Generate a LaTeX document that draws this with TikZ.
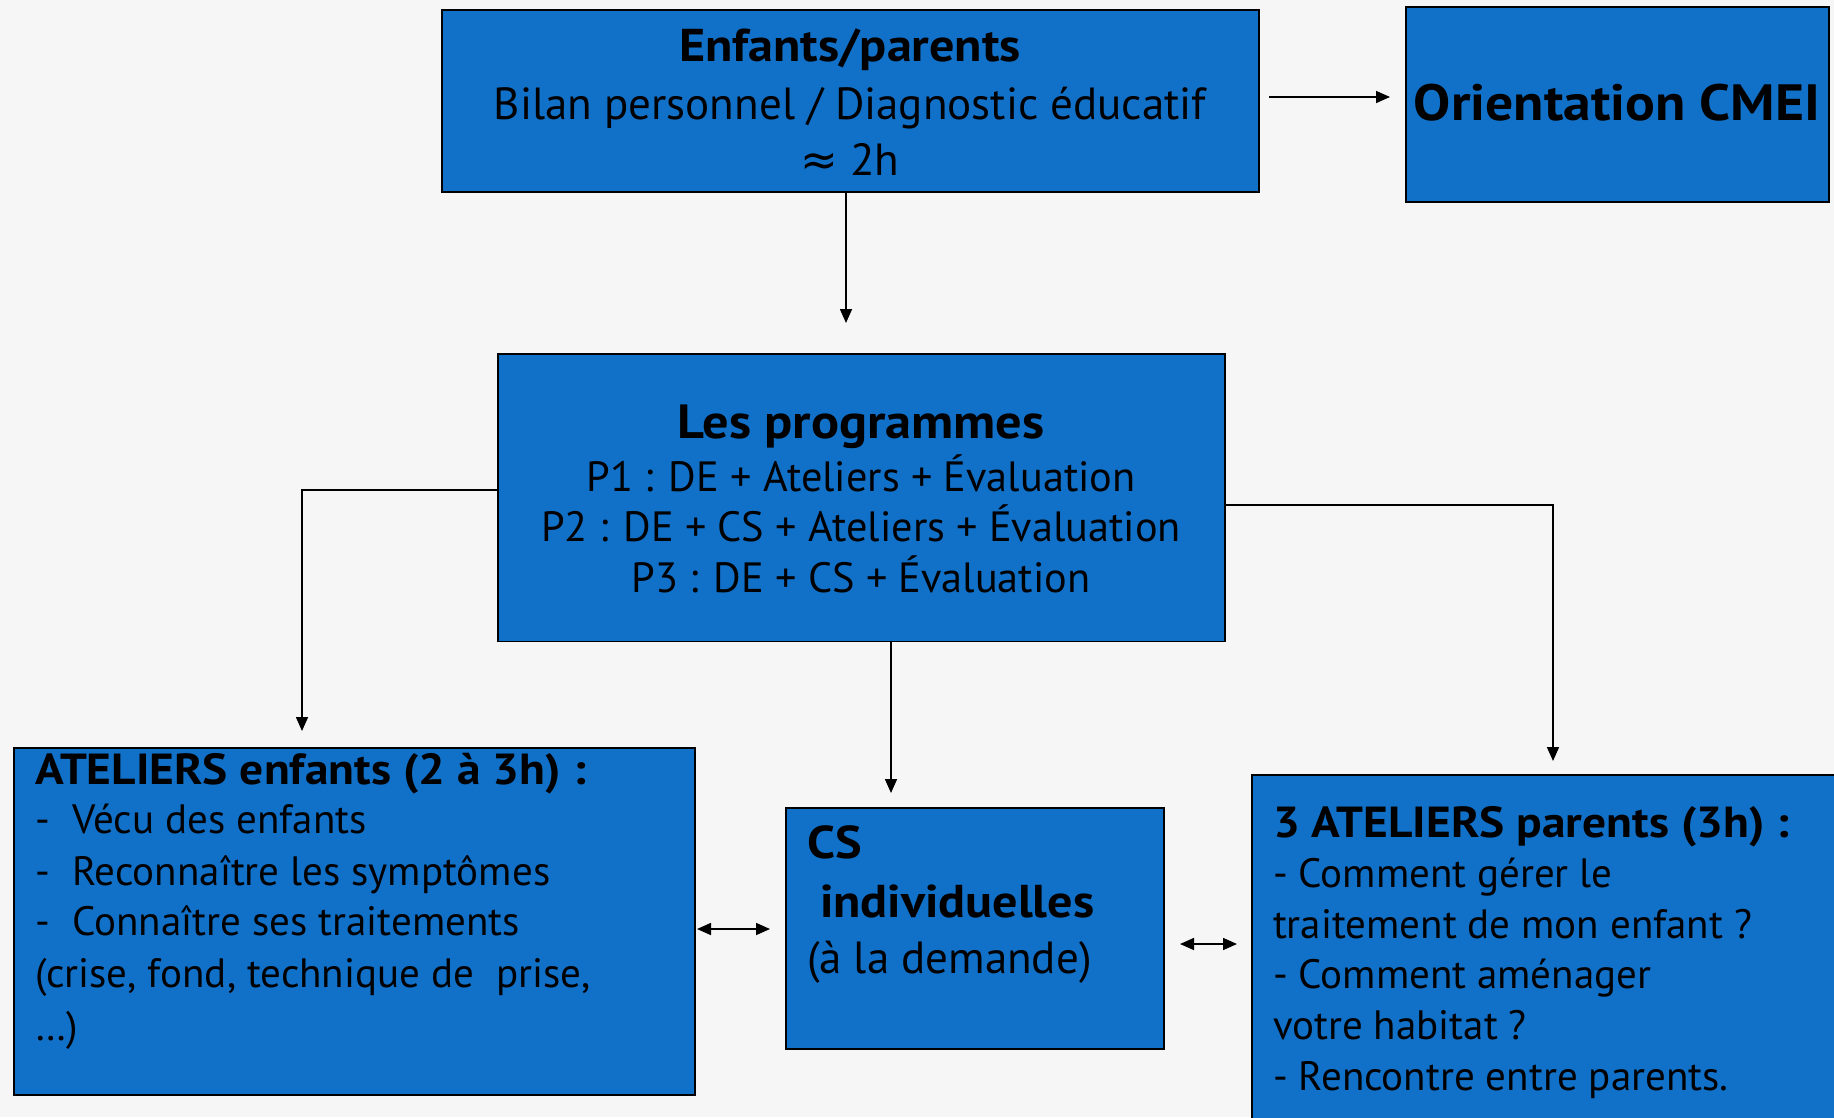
\documentclass[tikz,border=0pt]{standalone}
\usepackage{fontspec}
\setmainfont{PT Sans}
\newfontfamily\symfont{DejaVu Sans}
\newfontfamily\widebold[FakeStretch=1.09,UprightFont={* Bold}]{PT Sans}
\usetikzlibrary{arrows.meta}
\definecolor{boxblue}{HTML}{1170C8}
\definecolor{bgcol}{HTML}{F6F6F6}
\begin{document}
\begin{tikzpicture}[x=1pt,y=-1pt,
  box/.style={draw=black, line width=1.6pt, fill=boxblue, inner sep=0pt, outer sep=0pt},
  txt/.style={inner sep=0pt, outer sep=0pt, text=black},
  body/.style={txt, font=\fontsize{41}{50}\selectfont},
  bbody/.style={txt, font=\widebold\fontsize{43.5}{52}\selectfont},
  conn/.style={draw=black, line width=1.6pt, -{Triangle[length=14pt,width=12pt]}},
  dconn/.style={draw=black, line width=1.6pt, {Triangle[length=14pt,width=12pt]}-{Triangle[length=14pt,width=12pt]}},
]
\useasboundingbox (0,0) rectangle (1834,1117);
\clip (0,0) rectangle (1834,1117);
\fill[bgcol] (0,0) rectangle (1834,1117);

% boxes
\node[box, minimum width=817pt, minimum height=182pt] (top) at (850.5,101) {};
\node[box, minimum width=423pt, minimum height=195pt] (cmei) at (1617.5,104.5) {};
\node[box, minimum width=727pt, minimum height=287.5pt] (prog) at (861.5,497.75) {};
\node[box, minimum width=681pt, minimum height=347pt] (enf) at (354.5,921.5) {};
\node[box, minimum width=378pt, minimum height=241pt] (cs) at (975,928.5) {};
\node[box, minimum width=598pt, minimum height=355pt] (par) at (1551,952.5) {};

% texts: top
\node[txt, font=\widebold\fontsize{46}{56}\selectfont, anchor=base] (t1) at (850,61.7) {Enfants/parents};
\node[txt, font=\fontsize{45}{58}\selectfont, anchor=base] (t2) at (850,119) {Bilan personnel / Diagnostic éducatif};
\node[txt, font=\fontsize{45}{58}\selectfont, anchor=base] (t3) at (850,175.7) {{\symfont ≈} 2h};
% cmei
\node[txt, font=\widebold\fontsize{51}{60}\selectfont, anchor=base] (c1) at (1617,120.7) {Orientation CMEI};
% programmes
\node[txt, font=\widebold\fontsize{48}{56}\selectfont, anchor=base] (p0) at (861,438.3) {Les programmes};
\node[txt, font=\fontsize{42.3}{50}\selectfont, anchor=base] (p1) at (861,491.7) {P1 : DE + Ateliers + Évaluation};
\node[txt, font=\fontsize{42.3}{50}\selectfont, anchor=base] (p2) at (861,541.7) {P2 : DE + CS + Ateliers + Évaluation};
\node[txt, font=\fontsize{42.3}{50}\selectfont, anchor=base] (p3) at (861,592) {P3 : DE + CS + Évaluation};
% ateliers enfants
\node[bbody, anchor=base west] (e0) at (35,784) {ATELIERS enfants (2 à 3h) :};
\node[body, anchor=base west] (e1d) at (35,833) {-};
\node[body, anchor=base west] (e1) at (72.5,833) {Vécu des enfants};
\node[body, anchor=base west] (e2d) at (35,885) {-};
\node[body, anchor=base west] (e2) at (72.5,885) {Reconnaître les symptômes};
\node[body, anchor=base west] (e3d) at (35,935) {-};
\node[body, anchor=base west] (e3) at (72.5,935) {Connaître ses traitements};
\node[body, anchor=base west] (e4) at (35,987) {(crise, fond, technique de\ \ prise,};
\node[body, anchor=base west] (e5) at (35,1040) {…)};
% CS
\node[txt, font=\widebold\fontsize{46}{54}\selectfont, anchor=base west] (s0) at (807,858) {CS};
\node[txt, font=\widebold\fontsize{46}{54}\selectfont, anchor=base west] (s1) at (820,917) {individuelles};
\node[txt, font=\fontsize{45}{52}\selectfont, anchor=base west] (s2) at (807,973) {(à la demande)};
% parents
\node[bbody, anchor=base west] (r0) at (1273,837) {3 ATELIERS parents (3h) :};
\node[body, anchor=base west] (r1) at (1273,887.5) {- Comment gérer le};
\node[body, anchor=base west] (r2) at (1273,938) {traitement de mon enfant ?};
\node[body, anchor=base west] (r3) at (1273,988.5) {- Comment aménager};
\node[body, anchor=base west] (r4) at (1273,1039) {votre habitat ?};
\node[body, anchor=base west] (r5) at (1273,1090) {- Rencontre entre parents.};

% connector coordinates
\coordinate (a0) at (846,323);
\coordinate (b0) at (1269,97);
\coordinate (b1) at (1390,97);
\coordinate (lrow) at (302,490);
\coordinate (l1) at (302,731);
\coordinate (rrow) at (1553,505);
\coordinate (r1c) at (1553,761);
\coordinate (m1) at (891,793);
\coordinate (d1) at (697,929);
\coordinate (d2) at (770,929);
\coordinate (f1) at (1180,944);
\coordinate (f2) at (1237,944);

\draw[conn] (top.south -| a0) -- (a0);
\draw[conn] (b0) -- (b1);
\draw[conn] (prog.west |- lrow) -| (l1);
\draw[conn] (prog.east |- rrow) -| (r1c);
\draw[conn] (prog.south -| m1) -- (m1);
\draw[dconn] (d1) -- (d2);
\draw[dconn] (f1) -- (f2);
\end{tikzpicture}
\end{document}
